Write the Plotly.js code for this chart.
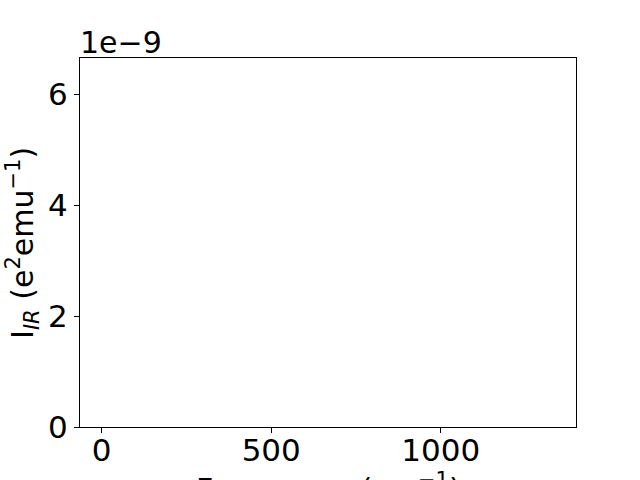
<!DOCTYPE html>
<html>
<head>
<meta charset="utf-8">
<script src="https://cdn.plot.ly/plotly-3.0.1.min.js"></script>
<style>html,body{margin:0;padding:0;background:#fff;}#chart{width:640px;height:480px;}</style>
</head>
<body>
<div id="chart"></div>
<script>
// Data (the reference spectrum shows no visible marks)
const frequency = [];
const intensity = [];
const xRange = [-64, 1399];
const yRange = [0, 6.65e-9];
const xTickVals = [0, 500, 1000];
const xTickText = ['0', '500', '1000'];
const yTickVals = [0, 2e-9, 4e-9, 6e-9];
const yTickText = ['0', '2', '4', '6'];

const FONT = 'DejaVu Sans, sans-serif';
const FS = 31;

const trace = {
  x: frequency, y: intensity, type: 'scatter', mode: 'lines',
  line: {color: '#1f77b4', width: 1.5}, showlegend: false, hoverinfo: 'skip'
};

const axisCommon = {
  showgrid: false, zeroline: false, showline: true, mirror: true,
  linecolor: '#000', linewidth: 1, ticks: 'outside', ticklen: 5, tickwidth: 1,
  tickcolor: '#000', tickfont: {family: FONT, size: FS, color: '#000'}
};

const layout = {
  width: 640, height: 480,
  margin: {l: 80, r: 64, t: 58, b: 53, pad: 0},
  paper_bgcolor: '#fff', plot_bgcolor: '#fff',
  font: {family: FONT, size: FS, color: '#000'},
  xaxis: Object.assign({}, axisCommon, {
    range: xRange, tickmode: 'array', tickvals: xTickVals, ticktext: xTickText,
    ticklabelstandoff: -9
  }),
  yaxis: Object.assign({}, axisCommon, {
    range: yRange, tickmode: 'array', tickvals: yTickVals, ticktext: yTickText
  }),
  annotations: [
    {text: '1e−9', xref: 'paper', yref: 'paper', x: 0, y: 1, xanchor: 'left', yanchor: 'bottom',
     showarrow: false, font: {family: FONT, size: FS - 1, color: '#000'}, xshift: -2, yshift: -4},
    {text: 'I<sub><i>IR</i></sub> (e<sup>2</sup>emu<sup>−1</sup>)', xref: 'paper', yref: 'paper',
     x: -0.116, y: 0.5, xanchor: 'center', yanchor: 'middle', textangle: -90,
     showarrow: false, font: {family: FONT, size: 30, color: '#000'}},
    {text: 'Frequency (cm<sup>−1</sup>)', xref: 'paper', yref: 'paper',
     x: 0.5, y: -0.106, xanchor: 'center', yanchor: 'top',
     showarrow: false, font: {family: FONT, size: 30, color: '#000'}}
  ]
};

Plotly.newPlot('chart', [trace], layout, {staticPlot: true, displayModeBar: false});
</script>
</body>
</html>
